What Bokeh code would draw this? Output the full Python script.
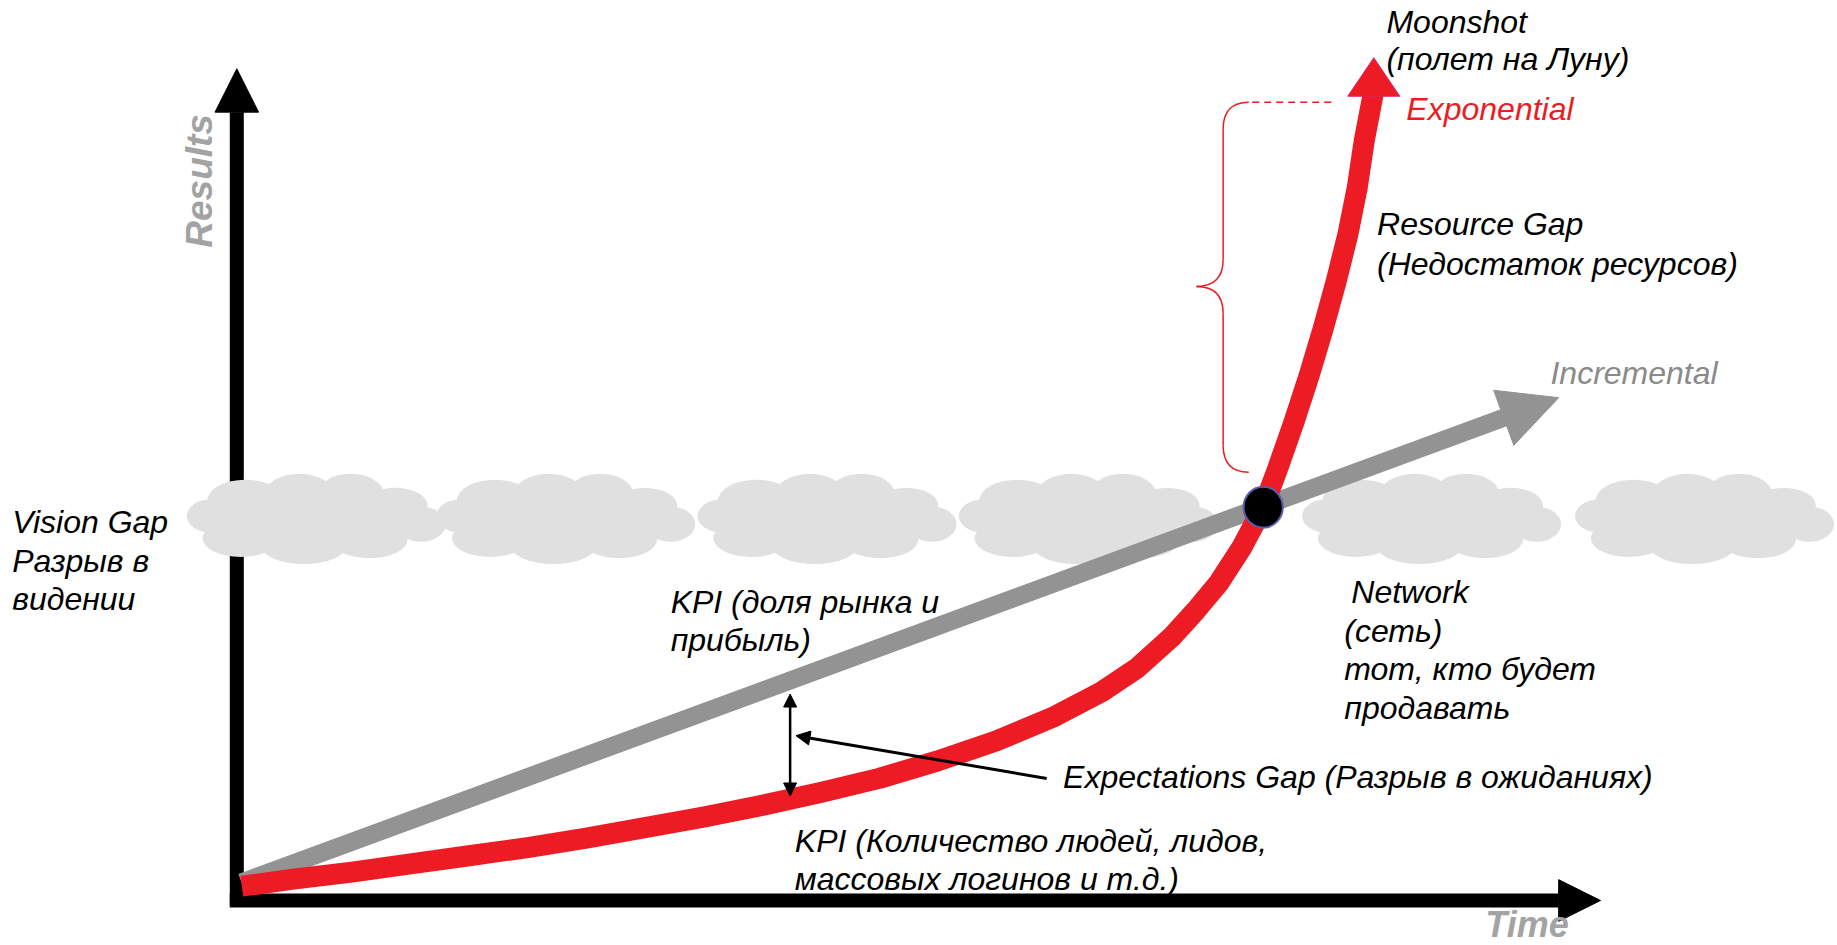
import numpy as np
from bokeh.plotting import figure
from bokeh.models import Range1d, Arrow, NormalHead
from bokeh.core.properties import value
from bokeh.embed import file_html
from bokeh.resources import INLINE

# ---- data (time / results, arbitrary units) ----
red_time = [-0.2, 4.2, 9.2, 14.2, 19.2, 24.2, 29.2, 34.2, 39.2, 44.2, 49.2, 54.2,
            59.2, 64.2, 69.2, 73.2, 76.2, 79.2, 81.2, 83.2, 85.2, 87.0, 88.2, 89.6,
            90.9, 92.1, 93.2, 94.2, 95.0, 95.6, 96.4]
red_result = [1.1, 1.7, 2.3, 3.0, 3.7, 4.4, 5.2, 6.1, 7.0, 8.0, 9.1, 10.3,
              11.8, 13.5, 15.6, 17.7, 19.7, 22.4, 24.6, 27.0, 30.1, 33.5, 36.7, 40.7,
              44.7, 48.7, 52.7, 56.7, 60.7, 64.7, 68.9]
red_head_time = [96.42, 94.2, 98.64]
red_head_result = [71.81, 68.53, 68.53]

gray_time = [-0.23, 107.51]
gray_result = [1.42, 41.08]
gray_head_time = [112.2, 106.65, 108.37]
gray_head_result = [42.8, 43.43, 38.73]

cross_time = [86.98]
cross_result = [33.45]

cloud_time = [5.9, 27.2, 49.5, 71.8, 101.1, 124.4]
cloud_result = [32.4] * 6

yaxis_time = [-0.63, -0.63]
yaxis_result = [-0.61, 67.17]
yhead_time = [-0.63, -2.49, 1.23]
yhead_result = [70.87, 67.17, 67.17]
xaxis_time = [-1.23, 112.2]
xaxis_result = [-0.12, -0.12]
xhead_time = [115.77, 112.2, 112.2]
xhead_result = [-0.12, 1.66, -1.90]

gap_time = 46.6
gap_top, gap_bottom = 17.5, 8.8
pointer_from = (68.5, 10.3)
pointer_to = (47.1, 13.95)

brace_x, brace_tip_x = 83.56, 81.28
brace_top, brace_mid, brace_bottom = 68.02, 52.29, 36.44
brace_end_x = 85.75
dash_x = [86.04, 92.98]

black_labels = ["Moonshot", "(полет на Луну)", "Resource Gap", "(Недостаток ресурсов)",
                "Vision Gap", "Разрыв в", "видении",
                "KPI (доля рынка и", "прибыль)",
                "Network", "(сеть)", "тот, кто будет", "продавать",
                "Expectations Gap (Разрыв в ожиданиях)",
                "KPI (Количество людей, лидов,", "массовых логинов и т.д.)"]
black_label_t = [97.5, 97.5, 96.7, 96.7, -19.8, -19.8, -19.8, 36.4, 36.4,
                 94.5, 93.9, 93.9, 93.9, 69.9, 47.0, 47.0]
black_label_r = [74.9, 71.7, 57.6, 54.2, 32.2, 28.9, 25.6, 25.4, 22.1,
                 26.2, 22.9, 19.6, 16.3, 10.4, 5.0, 1.7]

# ---- figure ----
f = 1837 / 1568
W, H = 1837, 945
x0 = (0 / f - 208) / 10
x1 = (W / f - 208) / 10
ytop = (767 - 0 / f) / 10
ybot = (767 - H / f) / 10

p = figure(width=W, height=H, x_range=Range1d(x0, x1), y_range=Range1d(ybot, ytop),
           output_backend="svg", toolbar_location=None, min_border=0)
p.axis.visible = False
p.grid.visible = False
p.outline_line_color = None
p.background_fill_color = "white"

RED = "#ed1c24"
GRAY = "#939393"
FONT = value("Liberation Sans")
FS = "32px"

# axes
p.line(yaxis_time, yaxis_result, line_width=14, color="black", line_cap="butt")
p.patch(yhead_time, yhead_result, color="black")
p.line(xaxis_time, xaxis_result, line_width=14, color="black", line_cap="butt")
p.patch(xhead_time, xhead_result, color="black")

# clouds
bumps = [(0, 0, 17, 4.4),
         (-5.8, 1.6, 6.5, 3.6), (-1.2, 2.1, 6.0, 3.6), (3.2, 2.2, 5.6, 3.4), (7.0, 1.2, 5.5, 3.0),
         (-6.2, -1.6, 6.5, 3.2), (-0.8, -2.1, 7.5, 3.4), (4.8, -1.7, 6.5, 3.2),
         (-8.8, 0.3, 4.0, 2.8), (9.2, -0.4, 4.2, 3.0)]
cx, cy, cw, ch = [], [], [], []
for t, r in zip(cloud_time, cloud_result):
    for dx, dy, w, h in bumps:
        cx.append(t + dx); cy.append(r + dy); cw.append(w); ch.append(h)
p.ellipse(cx, cy, width=cw, height=ch, fill_color="#e0e0e0", line_color=None)

# incremental
p.line(gray_time, gray_result, line_width=18, color=GRAY, line_cap="butt")
p.patch(gray_head_time, gray_head_result, color=GRAY)

# exponential
p.line(red_time, red_result, line_width=21, color=RED, line_cap="butt", line_join="round")
p.patch(red_head_time, red_head_result, fill_color=RED, line_color="#e0206a", line_width=1)

# crossing point
p.ellipse(cross_time, cross_result, width=3.35, height=3.5, fill_color="black",
          line_color="#5c5cae", line_width=2)

# resource gap brace
rad = 2.3
p.line(dash_x, [brace_top, brace_top], line_color=RED, line_width=1.5, line_dash="7 5")
p.quadratic(x0=[brace_end_x, brace_x, brace_tip_x, brace_x],
            y0=[brace_top, brace_mid + rad, brace_mid, brace_bottom + rad],
            cx=[brace_x, brace_x, brace_x, brace_x],
            cy=[brace_top, brace_mid, brace_mid, brace_bottom],
            x1=[brace_x, brace_tip_x, brace_x, brace_end_x],
            y1=[brace_top - rad, brace_mid, brace_mid - rad, brace_bottom],
            line_color=RED, line_width=1.5)
p.segment(x0=[brace_x, brace_x], y0=[brace_top - rad, brace_mid - rad],
          x1=[brace_x, brace_x], y1=[brace_mid + rad, brace_bottom + rad],
          line_color=RED, line_width=1.5)

# expectations gap
p.add_layout(Arrow(x_start=gap_time, y_start=gap_bottom, x_end=gap_time, y_end=gap_top,
                   line_width=2.5, line_color="black",
                   start=NormalHead(size=13, fill_color="black", line_color="black"),
                   end=NormalHead(size=13, fill_color="black", line_color="black")))
p.add_layout(Arrow(x_start=pointer_from[0], y_start=pointer_from[1],
                   x_end=pointer_to[0], y_end=pointer_to[1],
                   line_width=3, line_color="black",
                   end=NormalHead(size=14, fill_color="black", line_color="black")))

# labels
p.text(black_label_t, black_label_r, text=black_labels, text_font=FONT,
       text_font_size=FS, text_font_style="italic", text_color="black",
       text_baseline="middle", text_align="left")
p.text([99.2], [67.4], text=["Exponential"], text_font=FONT, text_font_size=FS,
       text_font_style="italic", text_color=RED, text_baseline="middle")
p.text([111.5], [44.9], text=["Incremental"], text_font=FONT, text_font_size=FS,
       text_font_style="italic", text_color="#8a8a8a", text_baseline="middle")
p.text([-3.8], [61.3], text=["Results"], angle=np.pi / 2, text_font=FONT,
       text_font_size="37px", text_font_style="bold italic", text_color="#a3a3a3",
       text_baseline="middle", text_align="center")
p.text([109.5], [-2.2], text=["Time"], text_font=FONT,
       text_font_size="36px", text_font_style="bold italic", text_color="#a3a3a3",
       text_baseline="middle", text_align="center")

open("out.html", "w").write(file_html(p, INLINE))
